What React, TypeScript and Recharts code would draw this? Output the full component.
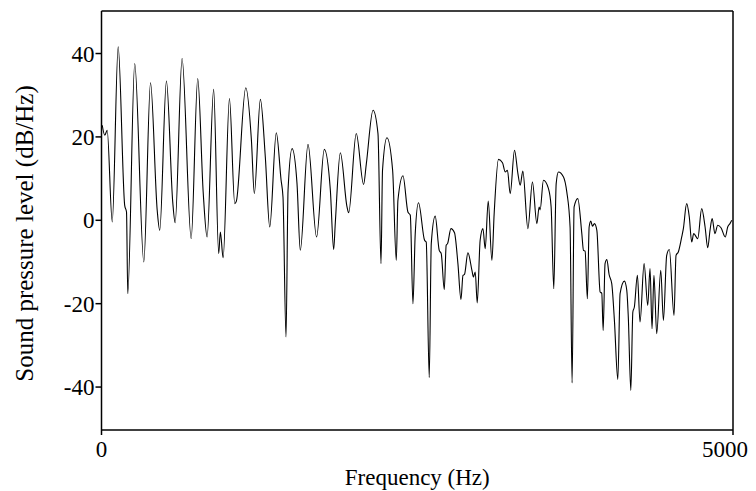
import { Line, LineChart, ReferenceLine, XAxis, YAxis, Label } from 'recharts'

// spectrum, Hz / dB per Hz
const freqHz = [
  6, 26, 45, 85, 132, 184, 198, 208, 263, 335, 388, 441, 461, 514, 564, 583,
  638, 710, 762, 805, 836, 888, 928, 941, 963, 1013, 1055, 1068, 1142, 1187, 1210,
  1258, 1297, 1332, 1384, 1422, 1437, 1461, 1477, 1509, 1548, 1574, 1635, 1703,
  1764, 1812, 1838, 1851, 1891, 1944, 1957, 2017, 2075, 2097, 2150, 2189, 2213,
  2225, 2260, 2305, 2334, 2347, 2387, 2426, 2445, 2466, 2484, 2510, 2558, 2571,
  2595, 2611, 2642, 2674, 2690, 2714, 2729, 2740, 2767, 2795, 2822, 2846, 2862,
  2874, 2901, 2933, 2945, 2959, 2975, 2998, 3020, 3038, 3062, 3091, 3109, 3143,
  3175, 3196, 3214, 3236, 3270, 3297, 3315, 3336, 3376, 3412, 3447, 3465, 3473,
  3499, 3539, 3560, 3581, 3600, 3618, 3658, 3684, 3710, 3726, 3742, 3771, 3803,
  3816, 3829, 3847, 3861, 3874, 3887, 3903, 3922, 3948, 3961, 3972, 3987, 4001,
  4019, 4040, 4061, 4088, 4106, 4140, 4159, 4171, 4191, 4207, 4219, 4243, 4264,
  4296, 4325, 4343, 4359, 4374, 4396, 4428, 4449, 4475, 4496, 4533, 4549, 4567,
  4594, 4607, 4633, 4654, 4673, 4689, 4721, 4752, 4779, 4800, 4818, 4835, 4857,
  4879, 4905, 4939, 4958, 4976, 4990,
]

const levelDb = [
  22.8, 20.4, 21.6, -0.4, 41.6, 3.5, 2, -17.6, 37.6, -10, 33, 2.4, -2.4, 33.4, 4.4, -0.6,
  38.8, -4.4, 34, 6.8, -4, 31.4, -8, -2.8, -9, 29.2, 4, 4.6, 31.8, 19.2, 6.4,
  29, 15.2, -1.6, 21, 9.6, 5.6, -28, 7.2, 17.2, 8.8, -7.2, 18.2, -4,
  17, 7.2, -7, -0.7, 16.2, 3.2, 1.8, 20.8, 8.6, 13.6, 26.4, 20.8, -10.4,
  12, 19.8, 12, -9.6, 4.8, 10.7, 2, 1.2, -20, -3.2, 4.2, -4.8, -5.2,
  -37.7, -5.6, 1, -7.2, -8, -16.6, -6, -5.6, -2, -3, -10.4, -19, -13.2,
  -13, -7.8, -12, -13.6, -12.4, -19.8, -4.8, -2, -6.8, 4.6, -9.6, 1.6, 14.6,
  13.8, 11.6, 12, 6.4, 16.8, 11.2, 8.4, 11.8, -2, 9.2, -0.8, 3.2, 2.5,
  9.6, 7.6, 3.2, -16.4, 8.8, 11.6, 10.4, 6.8, -1.6, -39, 3.2, 5.2, -3.2,
  -7.2, -7.4, -18.8, -1.6, -0.2, -1.4, -0.8, -2.4, -17.2, -17.5, -26.4, -10.4, -9.4,
  -13, -15.2, -24, -38.2, -17.6, -14.6, -16.8, -23.2, -40.8, -22, -20.8, -13.2, -24.4,
  -10.4, -20.4, -11.6, -26, -13.2, -27.2, -12, -24, -8.4, -7, -22.8, -8.4, -7.6,
  -4, -2, 4, 0.8, -5.2, -3.2, -4.4, 2.8, -1.6, -6.6, -2.4, 0.4, -3.2,
  -1.2, -1.8, -4, -1.6, -0.8, 0,
]

const xTicks = [0, 5000]
const yTicks = [-40, -20, 0, 20, 40]

const data = freqHz.map((f, i) => ({ f, db: levelDb[i] }))

const FONT = "'Times New Roman', Times, 'Liberation Serif', 'DejaVu Serif', serif"
const tickStyle = { fontFamily: FONT, fontSize: 23, fill: '#000' }

export default function App() {
  return (
    <div style={{ fontFamily: FONT }}>
      <LineChart
        width={740}
        height={483}
        data={data}
        margin={{ top: 3, right: 15, bottom: 0, left: 0 }}
      >
        <XAxis
          dataKey="f"
          type="number"
          domain={[0, 5000]}
          ticks={xTicks}
          height={61}
          tickSize={5}
          tickMargin={6}
          tick={tickStyle}
          stroke="#000"
          strokeWidth={1.5}
        >
          <Label
            value="Frequency (Hz)"
            position="insideBottom"
            offset={6}
            style={{ fontFamily: FONT, fontSize: 23, fill: '#000' }}
          />
        </XAxis>
        <YAxis
          type="number"
          domain={[-50.3, 50.2]}
          ticks={yTicks}
          allowDataOverflow
          width={93.5}
          tickSize={6}
          tickMargin={1}
          tick={tickStyle}
          stroke="#000"
          strokeWidth={1.5}
        >
          <Label
            value="Sound pressure level (dB/Hz)"
            angle={-90}
            position="insideLeft"
            offset={16}
            dy={13}
            style={{ fontFamily: FONT, fontSize: 25, fill: '#000', textAnchor: 'middle' }}
          />
        </YAxis>
        <ReferenceLine y={50.2} stroke="#000" strokeWidth={1.5} />
        <ReferenceLine x={5000} stroke="#000" strokeWidth={1.5} />
        <Line
          dataKey="db"
          type="monotone"
          stroke="#000"
          strokeWidth={1.1}
          dot={false}
          isAnimationActive={false}
        />
      </LineChart>
    </div>
  )
}
